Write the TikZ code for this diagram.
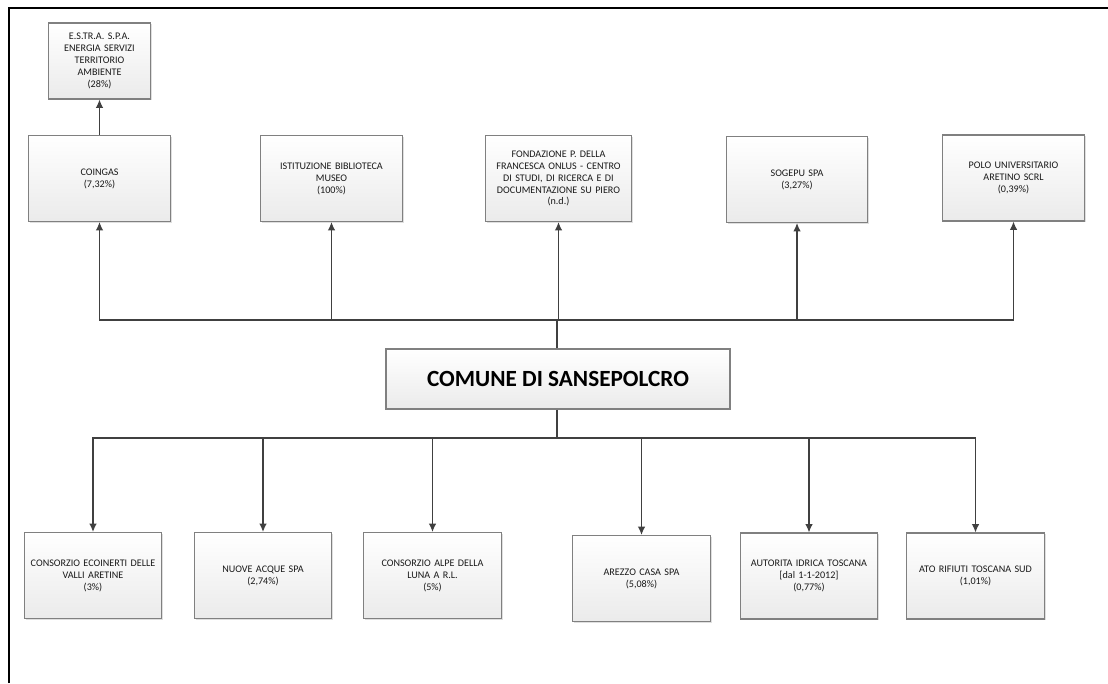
\documentclass[tikz,border=0pt]{standalone}
\usepackage{fontspec}
\setmainfont{Carlito}
\usetikzlibrary{positioning, calc, shadows, arrows.meta}

\begin{document}
\begin{tikzpicture}[
        x=0.025cm, y=-0.025cm,
        block/.style={
            rectangle, draw=black!50, line width=0.8pt, align=center,
            top color=white, bottom color=black!8, text=black!90,
            drop shadow={opacity=0.25, shadow xshift=1pt, shadow yshift=-1pt},
            font=\fontsize{7.2}{8.5}\selectfont,
            minimum width=3.5cm, minimum height=2.15cm, inner sep=2pt
        },
        lowblock/.style={block, minimum width=3.3cm, text width=3.3cm},
        link/.style={draw=black!75, line width=0.85pt},
        >={Latex[length=2.1mm, width=1.9mm]},
    ]
        \useasboundingbox (0,0) rectangle (1108,683);
        \draw [line width=1.5pt] (9,683) -- (9,8) -- (1108,8);

        % Main block
        \node [block, minimum width=8.6cm, minimum height=1.5cm,
               font=\fontsize{16.5}{20}\selectfont\bfseries, text=black] (comune) at (558,379) {COMUNE DI SANSEPOLCRO};

        % Upper row
        \node [block, text width=3.4cm] (coingas) at (99.5,178.5) {COINGAS\\(7,32\%)};
        \node [block, minimum width=2.5cm, minimum height=1.9cm, text width=2.4cm] (estra) at (99.5,61)
              {E.S.TR.A. S.P.A.\\ENERGIA SERVIZI\\TERRITORIO\\AMBIENTE\\(28\%)};
        \node [block, text width=3.4cm] (biblioteca) at (331.5,178.5) {ISTITUZIONE BIBLIOTECA\\MUSEO\\(100\%)};
        \node [block, minimum width=3.6cm, text width=3.5cm] (fondazione) at (558.5,178.5)
              {FONDAZIONE P. DELLA\\FRANCESCA ONLUS - CENTRO\\DI STUDI, DI RICERCA E DI\\DOCUMENTAZIONE SU PIERO\\(n.d.)};
        \node [block, text width=3.4cm] (sogepu) at (797,179.5) {SOGEPU SPA\\(3,27\%)};
        \node [block, text width=3.4cm] (polo) at (1013.5,178) {POLO UNIVERSITARIO\\ARETINO SCRL\\(0,39\%)};

        % Lower row
        \node [lowblock] (ecoinerti) at (93,575.5) {CONSORZIO ECOINERTI DELLE\\VALLI ARETINE\\(3\%)};
        \node [lowblock] (nuoveacque) at (263,575.5) {NUOVE ACQUE SPA\\(2,74\%)};
        \node [lowblock] (alpe) at (432.5,575.5) {CONSORZIO ALPE DELLA\\LUNA A R.L.\\(5\%)};
        \node [lowblock] (arezzocasa) at (641.5,578.5) {AREZZO CASA SPA\\(5,08\%)};
        \node [lowblock] (autorita) at (809,576) {AUTORITA IDRICA TOSCANA\\{[dal 1-1-2012]}\\(0,77\%)};
        \node [lowblock] (ato) at (975.5,576) {ATO RIFIUTI TOSCANA SUD\\(1,01\%)};

        % Arrows
        \coordinate (topbus) at (557,320);
        \coordinate (lowbus) at (557,438);
        \draw [link] (comune.north -| topbus) -- (topbus);
        \draw [link] (comune.south -| lowbus) -- (lowbus);
        \draw [link, ->] (coingas.north) -- (estra.south);
        \foreach \n in {coingas, biblioteca, fondazione, sogepu, polo}
            \draw [link, ->] (topbus) -| (\n.south);
        \foreach \n in {ecoinerti, nuoveacque, alpe, arezzocasa, autorita, ato}
            \draw [link, ->] (lowbus) -| (\n.north);
\end{tikzpicture}
\end{document}
